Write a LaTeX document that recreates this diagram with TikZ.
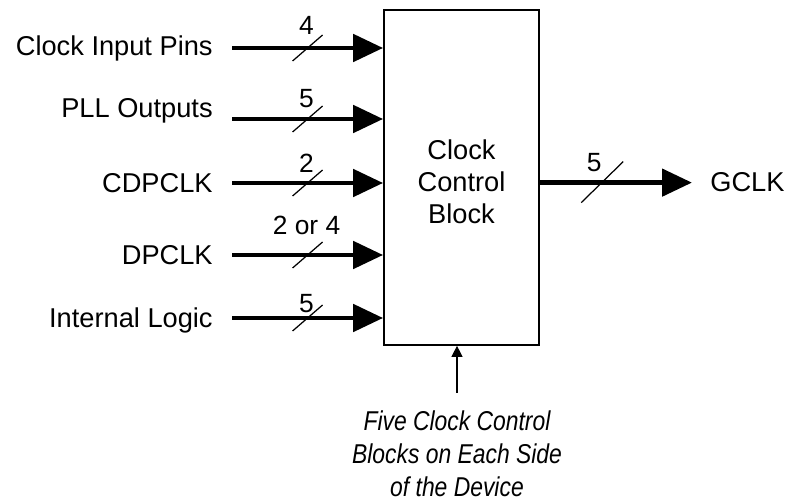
\documentclass[tikz,border=0pt]{standalone}
\usepackage{fontspec}
\setmainfont{Liberation Sans}
\newfontfamily\notefont{Liberation Sans}[FakeStretch=0.84]
\usetikzlibrary{arrows.meta}

\begin{document}
\begin{tikzpicture}[
      x=0.02cm, y=-0.02cm,
      sig/.style={
        font=\fontsize{15.5}{18.5}\selectfont, inner sep=0pt
      },
      ccblk/.style={
        draw, line width=1pt, minimum width=3.1cm, minimum height=6.7cm,
        align=center, font=\fontsize{15.5}{18.2}\selectfont
      },
      bus/.style={line width=2.8pt, -{Triangle[length=6mm, width=5.4mm]}},   % thick bus arrow
      busslash/.style={line width=0.7pt},                                     % bus width tick
      buswidth/.style={font=\fontsize{15}{18}\selectfont, inner sep=0pt},
      ptr/.style={line width=0.6pt, -{Triangle[length=2.2mm, width=2.2mm]}}, % thin pointer
      note/.style={
        font=\notefont\itshape\fontsize{15.5}{18.7}\selectfont,
        align=center, inner sep=0pt, outer ysep=0.36cm
      }
    ]
    \useasboundingbox (0,0) rectangle (788,502);

    % The clock control block in the middle.
    \node[ccblk] (ccb) at (461.5,177.5) {\rule{0pt}{16.5pt}Clock\\Control\\Block};

    % Input sources on the left.
    \node[sig, anchor=base east] (cip)  at (213, 56) {Clock Input Pins};
    \node[sig, anchor=base east] (pll)  at (213,118) {PLL Outputs};
    \node[sig, anchor=base east] (cdp)  at (213,193) {CDPCLK};
    \node[sig, anchor=base east] (dp)   at (213,265) {DPCLK};
    \node[sig, anchor=base east] (ilog) at (213,328) {Internal Logic};

    \coordinate (cipout)  at (232, 48);
    \coordinate (pllout)  at (232,119);
    \coordinate (cdpout)  at (232,183);
    \coordinate (dpout)   at (232,255);
    \coordinate (ilogout) at (232,318);

    % Input buses into the block.
    \draw[bus] (cipout)  -- coordinate[pos=0.5] (cipw)  (cipout  -| ccb.west);
    \draw[bus] (pllout)  -- coordinate[pos=0.5] (pllw)  (pllout  -| ccb.west);
    \draw[bus] (cdpout)  -- coordinate[pos=0.5] (cdpw)  (cdpout  -| ccb.west);
    \draw[bus] (dpout)   -- coordinate[pos=0.5] (dpw)   (dpout   -| ccb.west);
    \draw[bus] (ilogout) -- coordinate[pos=0.5] (ilogw) (ilogout -| ccb.west);

    % Bus width ticks and counts.
    \draw[busslash] (cipw)  ++(-15,13) -- ++(30,-26);
    \draw[busslash] (pllw)  ++(-15,13) -- ++(30,-26);
    \draw[busslash] (cdpw)  ++(-15,13) -- ++(30,-26);
    \draw[busslash] (dpw)   ++(-15,13) -- ++(30,-26);
    \draw[busslash] (ilogw) ++(-15,13) -- ++(30,-26);
    \node[buswidth] (cipn)  at ([shift={(-1,-23)}]cipw)  {4};
    \node[buswidth] (plln)  at ([shift={(-1,-20)}]pllw)  {5};
    \node[buswidth] (cdpn)  at ([shift={(-1,-20)}]cdpw)  {2};
    \node[buswidth] (dpn)   at ([shift={(-1,-30)}]dpw)   {2 or 4};
    \node[buswidth] (ilogn) at ([shift={(-1,-14)}]ilogw) {5};

    % Output bus to GCLK.
    \node[sig, anchor=base west] (gclk) at (710,192) {GCLK};
    \draw[bus] (ccb.east |- gclk.west) -- coordinate[pos=0.41] (gclkw) ([xshift=-0.36cm]gclk.west);
    \draw[busslash] (gclkw) ++(-21,20) -- ++(42,-41);
    \node[buswidth] (gclkn) at ([shift={(-8,-20)}]gclkw) {5};

    % Note below the block.
    \node[note, anchor=north] (fivenote) at (457,393)
      {Five Clock Control\\Blocks on Each Side\\of the Device};
    \draw[ptr] (fivenote.north) -- (fivenote.north |- ccb.south);
  \end{tikzpicture}
\end{document}
